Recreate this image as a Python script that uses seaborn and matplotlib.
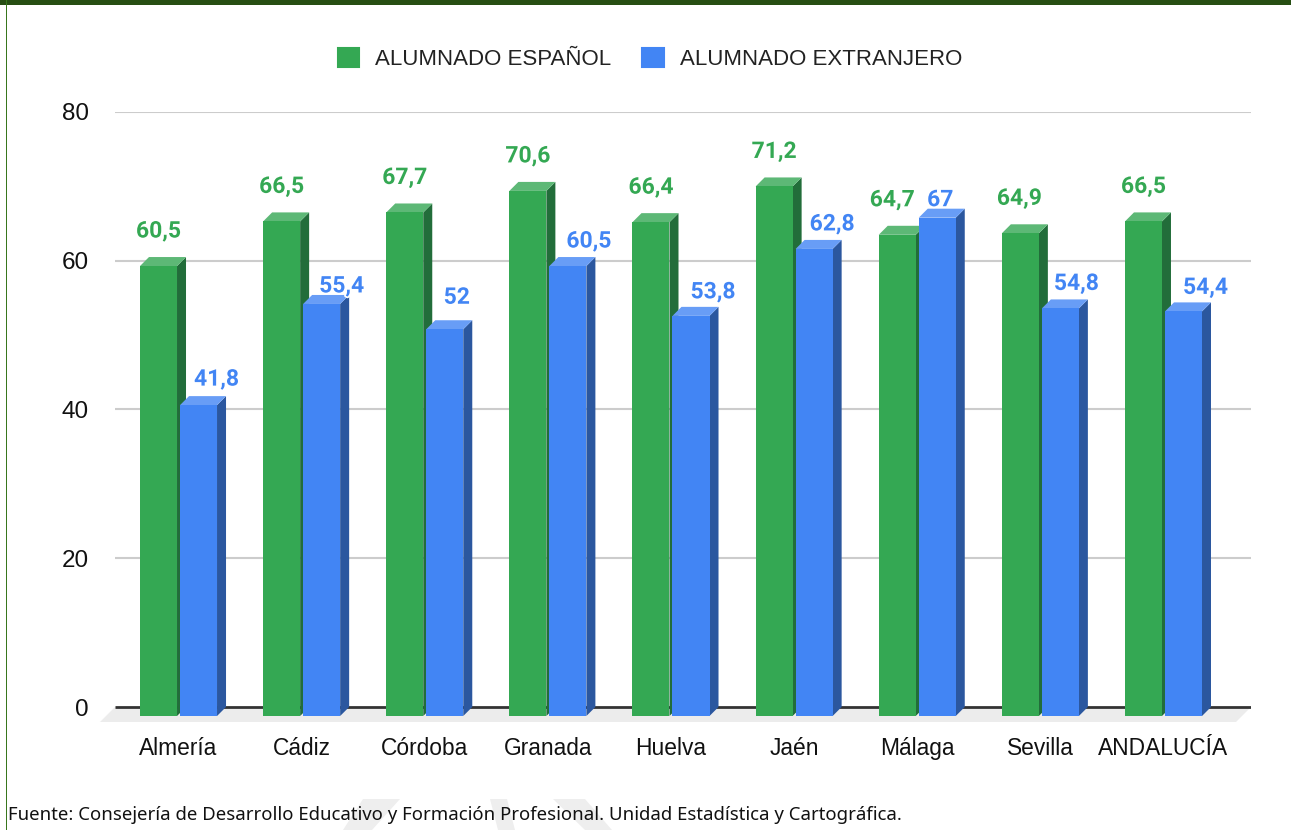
import matplotlib
matplotlib.use("Agg")
import matplotlib.pyplot as plt
import matplotlib.patheffects as pe
from matplotlib.patches import Polygon, Rectangle, Patch
import pandas as pd
import seaborn as sns

provincias = ["Almería", "Cádiz", "Córdoba", "Granada", "Huelva", "Jaén", "Málaga", "Sevilla", "ANDALUCÍA"]
espanol = [60.5, 66.5, 67.7, 70.6, 66.4, 71.2, 64.7, 64.9, 66.5]
extranjero = [41.8, 55.4, 52, 60.5, 53.8, 62.8, 67, 54.8, 54.4]
series = ["ALUMNADO ESPAÑOL", "ALUMNADO EXTRANJERO"]
y_ticks = [0, 20, 40, 60, 80]
fuente = "Fuente: Consejería de Desarrollo Educativo y Formación Profesional. Unidad Estadística y Cartográfica."

colores = ["#34a853", "#4285f4"]
laterales = ["#226d3a", "#2b579f"]
superiores = ["#5db876", "#689df6"]

# desplazamiento de las etiquetas respecto a cada barra, en pixeles
off_esp_x = [0, 0, 0, 0, 0, 0, -5, -1, 0]
off_ext_x = [18, 20, 12, 21, 22, 18, 3, 16, 22]
off_ext_y = [17, 9, 23, 16, 15, 16, 9, 16, 15]

# marca de agua del fondo, en pixeles de la imagen
marca_agua = [
    [(363, 799), (400, 799), (372, 830), (343, 830)],
    [(490, 799), (507, 799), (515, 830), (498, 830)],
    [(553, 799), (585, 799), (612, 830), (585, 830)],
]

W, H = 1291, 830
px_x = 123.1
px_y = 7.4375
prof = 9
dx = prof / px_x
dy = prof / px_y

df = pd.DataFrame({
    "provincia": provincias * 2,
    "valor": espanol + extranjero,
    "serie": [series[0]] * 9 + [series[1]] * 9,
})

sns.set_style("white")
fig = plt.figure(figsize=(W / 100, H / 100), dpi=100)
ax = fig.add_axes([115 / W, 1 - 737 / H, (1251 - 115) / W, (737 - 112) / H])

sns.barplot(data=df, x="provincia", y="valor", hue="serie", palette=colores, width=0.65, gap=0.075,
            bottom=-dy, saturation=1, linewidth=0, legend=False, zorder=3, ax=ax)

ax.set_xlim(-63.5 / px_x, 8 + 87.5 / px_x)
ax.set_ylim(-30 / px_y, 80)
ax.set_xlabel("")
ax.set_ylabel("")
ax.set_yticks(y_ticks)
ax.tick_params(axis="both", length=0)
for lab in ax.get_xticklabels() + ax.get_yticklabels():
    lab.set_fontfamily("Liberation Sans")
    lab.set_fontsize(16.4)
    lab.set_color("#111111")
ax.tick_params(axis="x", pad=0)
ax.tick_params(axis="y", pad=19)
for lab in ax.get_yticklabels():
    lab.set_fontsize(17.5)
    lab.set_verticalalignment("center_baseline")
for s in ax.spines.values():
    s.set_visible(False)

# rejilla y base
x0, x1 = ax.get_xlim()
for t in y_ticks[1:]:
    ax.plot([x0, x1], [t, t], color="#cccccc", lw=1.5, zorder=1)
ax.plot([x0, x1], [0, 0], color="#333333", lw=2, zorder=2, solid_capstyle="butt")
ax.add_patch(Polygon([(x0, 0), (x1, 0), (x1 - 15 / px_x, -15 / px_y), (x0 - 15 / px_x, -15 / px_y)],
                     closed=True, color="#ececec", lw=0, zorder=1.5, clip_on=False))

# caras laterales y superiores de cada barra
barras = [b for c in ax.containers for b in c]
n = len(provincias)
for k, b in enumerate(barras):
    s = k // n
    izq, der = b.get_x(), b.get_x() + b.get_width()
    base, tope = b.get_y(), b.get_y() + b.get_height()
    z = 3 + s * 0.2
    b.set_zorder(z + 0.1)
    ax.add_patch(Polygon([(der, base), (der + dx, base + dy), (der + dx, tope + dy), (der, tope)],
                         closed=True, color=laterales[s], lw=0, zorder=z))
    ax.add_patch(Polygon([(izq, tope), (der, tope), (der + dx, tope + dy), (izq + dx, tope + dy)],
                         closed=True, color=superiores[s], lw=0, zorder=z))

    if s == 0:
        ox, oy = off_esp_x[k], 26
        texto = espanol[k]
    else:
        ox, oy = off_ext_x[k - n], off_ext_y[k - n]
        texto = extranjero[k - n]
    ax.annotate(f"{texto:g}".replace(".", ","), (izq + b.get_width() / 2, tope + dy),
                xytext=(ox * 0.72, oy * 0.72), textcoords="offset points", ha="center", va="center",
                color=colores[s], fontsize=16.5, fontweight="bold", fontfamily="Roboto", zorder=6,
                path_effects=[pe.withStroke(linewidth=2.5, foreground="white")])

handles = [Patch(facecolor=c, edgecolor=c, linewidth=1.5, joinstyle="round", label=l) for c, l in zip(colores, series)]
leg = fig.legend(handles=handles, loc="center", bbox_to_anchor=(650 / W, 1 - 59 / H), ncols=2, frameon=False,
                 handlelength=0.95, handleheight=0.95, handletextpad=0.72, columnspacing=1.4,
                 prop={"family": "Liberation Sans", "size": 16.05})
for t in leg.get_texts():
    t.set_color("#222222")

# marco y pie
for forma in marca_agua:
    fig.add_artist(Polygon([(x / W, 1 - y / H) for x, y in forma], closed=True, transform=fig.transFigure,
                           color="#eeeeee", lw=0, zorder=0))
fig.add_artist(Rectangle((0, 1 - 5 / H), 1, 5 / H, transform=fig.transFigure, color="#274e13", lw=0))
fig.add_artist(Rectangle((6 / W, 0), 1.5 / W, 1, transform=fig.transFigure, color="#38761d", lw=0))
fig.text(8 / W, 1 - 815 / H, fuente, fontfamily="Noto Sans", fontsize=13.36, color="#111111", va="center", zorder=5)

fig.savefig("out.png", dpi=100)
